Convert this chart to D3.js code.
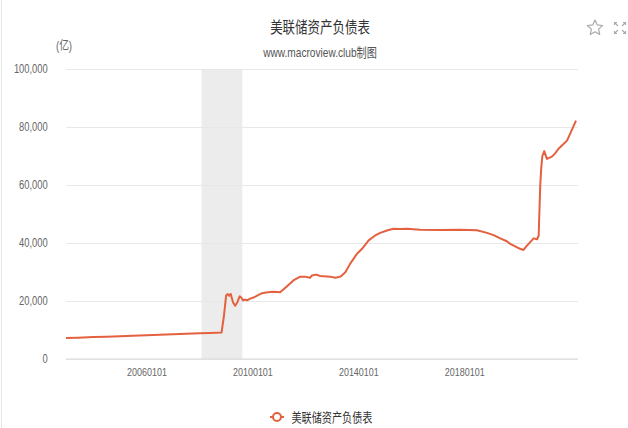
<!DOCTYPE html>
<html>
<head>
<meta charset="utf-8">
<script src="https://cdn.jsdelivr.net/npm/d3@7/dist/d3.min.js"></script>
<style>
  html, body { margin: 0; padding: 0; background: #fff; }
  svg { display: block; }
  text { font-family: "Liberation Sans", Arial, "Noto Sans CJK SC", sans-serif; }
</style>
</head>
<body>
<svg id="chart" width="628" height="428"></svg>
<script>
// Federal Reserve balance sheet, unit: 亿 (100 million USD)
const dates = [
  "20021218","20030601","20040101","20040701","20050101","20050701","20060101","20060701",
  "20070101","20070701","20080101","20080601","20081101","20081205","20090104","20090126",
  "20090214","20090308","20090409","20090508","20090606","20090709","20090731","20090825",
  "20090924","20091019","20091201","20100126","20100321","20100515","20100709","20101001",
  "20101220","20110118","20110420","20110720","20111022","20111228","20120306","20120401",
  "20120530","20120724","20121210","20130218","20130428","20130706","20130909","20131214",
  "20140221","20140523","20140822","20141030","20150130","20150501","20150731","20151103",
  "20160501","20170201","20171101","20180624","20181110","20190210","20190512","20190811",
  "20190927","20200210","20200328","20200515","20200628","20200815","20201001","20201023",
  "20201114","20201128","20201213","20210108","20210214","20210424","20210610","20210724",
  "20210909","20211118","20220101","20220322"
];
const values = [
  7200, 7350, 7550, 7700, 7850, 8000, 8200, 8400,
  8550, 8700, 8850, 8950, 9100, 15000, 22000, 22400,
  21800, 22400, 19500, 18400, 19500, 21600, 21200, 20200,
  20500, 20200, 20800, 21300, 22000, 22700, 22900, 23200,
  23100, 23000, 25000, 27100, 28400, 28400, 28000, 28800,
  29100, 28600, 28400, 28000, 28400, 29900, 32800, 36300,
  38000, 40900, 42600, 43500, 44300, 44900, 44800, 44900,
  44600, 44500, 44600, 44400, 43500, 42700, 41600, 40600,
  39700, 38000, 37600, 39100, 40300, 41600, 41300, 42500,
  60000, 66000, 70000, 71700, 69000, 69800, 71000, 72500,
  73600, 75300, 77700, 82200
];
const xTickLabels = ["20060101", "20100101", "20140101", "20180101"];
const yTicks = [0, 20000, 40000, 60000, 80000, 100000];
const recession = ["20080130", "20090814"];

const seriesName = "美联储资产负债表";
const titleText = "美联储资产负债表";
const subtitleText = "www.macroview.club制图";
const unitText = "(亿)";

const parse = d3.timeParse("%Y%m%d");
const data = dates.map((d, i) => ({ date: parse(d), v: values[i] }));

const W = 628, H = 428;
const plotL = 66, plotR = 576, plotT = 69, plotB = 359;
const lineColor = "#e4603e";
const SX = 0.78; // horizontal glyph compression

const svg = d3.select("#chart");

// faint left border of the panel
svg.append("line").attr("x1", 1.5).attr("x2", 1.5).attr("y1", 0).attr("y2", H)
  .attr("stroke", "#e6e6e6").attr("stroke-width", 1);

const x = d3.scaleTime()
  .domain(d3.extent(data, d => d.date))
  .range([plotL, plotR]);
const y = d3.scaleLinear().domain([0, 100000]).range([plotB, plotT]);

// helper for compressed text placed at (px, py)
function label(g, txt, px, py, size, anchor, color) {
  return g.append("text")
    .attr("transform", `translate(${px},${py}) scale(${SX},1)`)
    .attr("text-anchor", anchor)
    .attr("font-size", size)
    .attr("fill", color)
    .text(txt);
}

// recession shading
svg.append("rect")
  .attr("x", x(parse(recession[0])))
  .attr("width", x(parse(recession[1])) - x(parse(recession[0])))
  .attr("y", plotT).attr("height", plotB - plotT)
  .attr("fill", "#ececec");

// y axis with gridlines
const yAxis = svg.append("g")
  .attr("transform", `translate(${plotL},0)`)
  .call(d3.axisLeft(y).tickValues(yTicks).tickSize(-(plotR - plotL + 2))
    .tickPadding(23.5).tickFormat(d3.format(",")));
yAxis.select(".domain").remove();
yAxis.selectAll(".tick line").attr("stroke", "#e8e8e8");
yAxis.selectAll(".tick text")
  .attr("font-size", 12).attr("fill", "#666")
  .attr("transform", `scale(${SX},1)`);

// x axis
const xAxis = svg.append("g")
  .attr("transform", `translate(0,${plotB})`)
  .call(d3.axisBottom(x).tickValues(xTickLabels.map(parse)).tickSize(0)
    .tickPadding(9).tickFormat(d3.timeFormat("%Y%m%d")));
xAxis.select(".domain").attr("stroke", "#d9d9d9").attr("d", `M${plotL},0H${plotR + 2}`);
xAxis.selectAll(".tick text")
  .attr("font-size", 11.5).attr("fill", "#666")
  .attr("transform", `scale(${SX},1)`);

// series line
svg.append("path")
  .datum(data)
  .attr("fill", "none")
  .attr("stroke", lineColor)
  .attr("stroke-width", 2)
  .attr("stroke-linejoin", "round")
  .attr("d", d3.line().x(d => x(d.date)).y(d => y(d.v)));

// titles
label(svg, titleText, 320, 33, 16, "middle", "#333");
label(svg, subtitleText, 320, 57, 13, "middle", "#555");
label(svg, unitText, 64, 50, 12.5, "middle", "#666");

// legend
const lg = svg.append("g");
lg.append("line").attr("x1", 270).attr("x2", 284).attr("y1", 417).attr("y2", 417)
  .attr("stroke", lineColor).attr("stroke-width", 2);
lg.append("circle").attr("cx", 277).attr("cy", 417).attr("r", 4)
  .attr("fill", "#fff").attr("stroke", lineColor).attr("stroke-width", 2);
label(lg, seriesName, 291.5, 421.5, 13, "start", "#333");

// toolbox icons: star and expand
const star = d3.range(10).map(i => {
  const r = i % 2 === 0 ? 8 : 3.8;
  const a = -Math.PI / 2 + i * Math.PI / 5;
  return [595 + r * Math.cos(a), 28 + r * Math.sin(a)];
});
svg.append("path").attr("d", "M" + star.join("L") + "Z")
  .attr("fill", "none").attr("stroke", "#aaa").attr("stroke-width", 1.2)
  .attr("stroke-linejoin", "round");
const ex = svg.append("g").attr("transform", "translate(620,28)")
  .attr("stroke", "#aaa").attr("stroke-width", 1.1).attr("fill", "none");
[[-1, -1], [1, -1], [-1, 1], [1, 1]].forEach(([sx, sy]) => {
  ex.append("path").attr("d", `M${sx * 2},${sy * 2}L${sx * 5.5},${sy * 5.5}M${sx * 5.5},${sy * 3}L${sx * 5.5},${sy * 5.5}L${sx * 3},${sy * 5.5}`);
});
</script>
</body>
</html>
